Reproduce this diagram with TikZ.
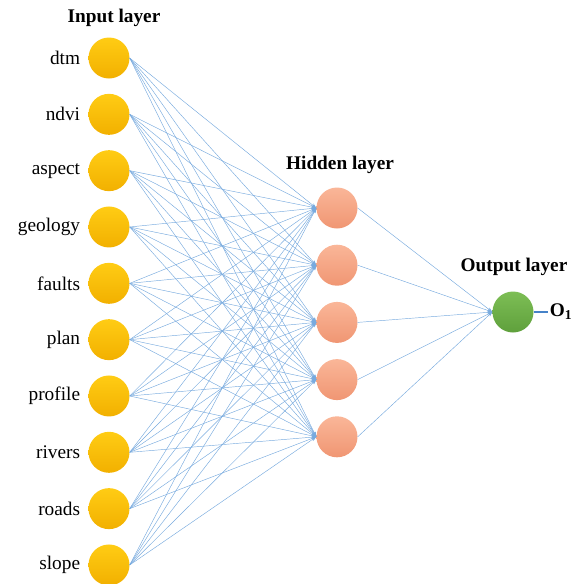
\documentclass[tikz,border=0pt]{standalone}
\usepackage{fontspec}
\setmainfont{Liberation Serif}
\usetikzlibrary{positioning,arrows.meta}
\definecolor{goldtop}{RGB}{255,204,20}
\definecolor{goldbot}{RGB}{242,176,0}
\definecolor{salmontop}{RGB}{250,182,152}
\definecolor{salmonbot}{RGB}{240,150,115}
\definecolor{greentop}{RGB}{125,190,85}
\definecolor{greenbot}{RGB}{95,160,60}
\definecolor{linkblue}{RGB}{120,170,222}
\definecolor{outblue}{RGB}{70,130,200}

\begin{document}
\begin{tikzpicture}[x=1pt,y=-1pt,
  neuron/.style={circle,minimum size=41pt,inner sep=0pt},
  inneuron/.style={neuron,top color=goldtop,bottom color=goldbot},
  hidneuron/.style={neuron,top color=salmontop,bottom color=salmonbot},
  outneuron/.style={neuron,top color=greentop,bottom color=greenbot},
  link/.style={draw=linkblue,line width=0.45pt,-{Stealth[length=5pt,width=3.5pt]}},
  lbl/.style={font=\fontsize{19.3}{21}\selectfont,inner sep=2pt},
  title/.style={font=\bfseries\fontsize{19.3}{21}\selectfont,inner sep=2pt}]
\useasboundingbox (0,0) rectangle (578,584);
% input layer
\foreach \name [count=\i from 0] in {dtm,ndvi,aspect,geology,faults,plan,profile,rivers,roads,slope} {
  \node[inneuron] (in\i) at (109,{58+56.33*\i}) {};
  \node[lbl,left=6pt of in\i] (lbl\i) {\name};
}
\node[title] (intitle) at (114,18) {Input layer};
% hidden layer
\foreach \j in {0,...,4}
  \node[hidneuron] (hid\j) at (337,{208+57.2*\j}) {};
\node[title] (hidtitle) at (340,165) {Hidden layer};
% output layer
\node[outneuron] (out) at (513,312) {};
\node[title] (outtitle) at (514,267) {Output layer};
\node[title,right=14pt of out] (o1) {O\textsubscript{1}};
% connections
\foreach \i in {0,...,9}
  \foreach \j in {0,...,4}
    \draw[link] (in\i.east) -- (hid\j.west);
\foreach \j in {0,...,4}
  \draw[link] (hid\j.east) -- (out.west);
\draw[draw=outblue,line width=2.5pt] (out.east) -- (o1.west);
\end{tikzpicture}
\end{document}
